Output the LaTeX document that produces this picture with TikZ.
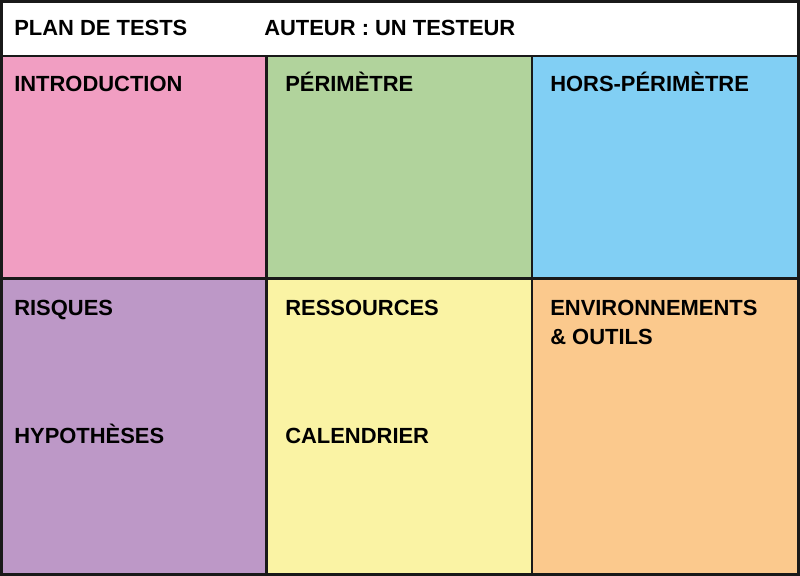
\documentclass[tikz,border=0pt]{standalone}
\usepackage{fontspec}
\setmainfont{Liberation Sans}
\usetikzlibrary{positioning}

\definecolor{intropink}{RGB}{241,158,194}
\definecolor{scopegreen}{RGB}{177,211,156}
\definecolor{outblue}{RGB}{129,207,244}
\definecolor{riskpurple}{RGB}{189,152,199}
\definecolor{resyellow}{RGB}{250,243,164}
\definecolor{envorange}{RGB}{251,201,141}

\begin{document}
\begin{tikzpicture}[
    x=0.025cm, y=-0.025cm,
    % Cell box style
    cell/.style={
        rectangle,
        draw=black!90,
        line width=1.8pt,
        inner sep=0pt
    },
    % Title style
    lbl/.style={
        font=\fontsize{15.6}{20}\selectfont\bfseries,
        text=black,
        anchor=base west,
        inner sep=0pt,
        align=left
    }
]
\useasboundingbox (0,0) rectangle (800,576);

% === Header band ===
\node[cell, fill=white, minimum width=19.925cm, minimum height=1.3625cm] (head) at (400, 28.75) {};
\node[lbl] (plan) at (14, 36) {PLAN DE TESTS};
\node[lbl] (author) at (264, 36) {AUTEUR : UN TESTEUR};

% === Row 1 ===
\node[cell, fill=intropink, minimum width=6.625cm, minimum height=5.5625cm] (intro) at (134, 167.25) {};
\node[lbl] at (14, 92) {INTRODUCTION};

\node[cell, fill=scopegreen, minimum width=6.6375cm, minimum height=5.5625cm] (scope) at (399.25, 167.25) {};
\node[lbl] at (285, 92) {PÉRIMÈTRE};

\node[cell, fill=outblue, minimum width=6.6625cm, minimum height=5.5625cm] (outscope) at (665.25, 167.25) {};
\node[lbl] at (550, 92) {HORS-PÉRIMÈTRE};

% === Row 2 ===
\node[cell, fill=riskpurple, minimum width=6.625cm, minimum height=7.4cm] (risks) at (134, 426.5) {};
\node[lbl] at (14, 316) {RISQUES};
\node[lbl] at (14, 443.5) {HYPOTHÈSES};

\node[cell, fill=resyellow, minimum width=6.6375cm, minimum height=7.4cm] (res) at (399.25, 426.5) {};
\node[lbl] at (285, 316) {RESSOURCES};
\node[lbl] at (285, 443.5) {CALENDRIER};

\node[cell, fill=envorange, minimum width=6.6625cm, minimum height=7.4cm] (env) at (665.25, 426.5) {};
% base of a two-line node sits on its last line
\node[lbl] at (550, 344) {ENVIRONNEMENTS\\\& OUTILS};

\end{tikzpicture}
\end{document}
